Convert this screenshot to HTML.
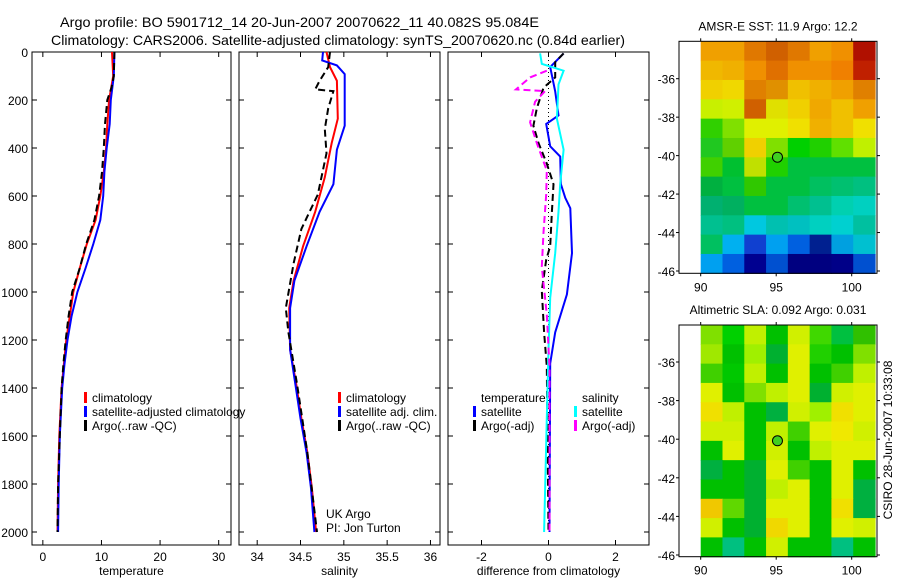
<!DOCTYPE html>
<html><head><meta charset="utf-8"><style>
html,body{margin:0;padding:0;background:#fff;}
svg{display:block;font-family:"Liberation Sans",sans-serif;}
</style></head><body>
<svg id="fig" width="900" height="580" viewBox="0 0 900 580" xmlns="http://www.w3.org/2000/svg">
<text x="60" y="27" font-size="14" textLength="479" lengthAdjust="spacingAndGlyphs">Argo profile: BO 5901712_14 20-Jun-2007 20070622_11 40.082S 95.084E</text>
<text x="51" y="45" font-size="14" textLength="574" lengthAdjust="spacingAndGlyphs">Climatology: CARS2006. Satellite-adjusted climatology: synTS_20070620.nc (0.84d earlier)</text>
<g id="plots"></g>
<text transform="translate(892,440) rotate(-90)" text-anchor="middle" font-size="12">CSIRO 28-Jun-2007 10:33:08</text>
</svg>
<script>
// ---- Profile data (depth in dbar) ----
const tDepth = [0,100,200,300,400,500,600,700,800,900,1000,1100,1200,1300,1400,1600,1800,2000];
const tClim  = [11.8,12.0,11.3,11.0,10.8,10.4,9.8,9.0,7.5,6.3,5.2,4.6,4.0,3.6,3.2,2.8,2.6,2.5];
const tSat   = [12.2,12.1,11.6,11.4,10.9,10.5,10.3,9.8,8.6,7.3,5.9,4.9,4.2,3.7,3.3,2.9,2.7,2.6];
const tArgoDepth = [0,100,150,200,300,400,500,600,700,800,900,1000,1100,1200,1300,1400,1600,1800,2000];
const tArgo  = [12.2,12.1,11.7,11.0,10.6,10.4,10.1,9.6,8.8,7.4,6.3,5.0,4.4,3.9,3.5,3.2,2.9,2.6,2.5];

const sClimDepth = [0,63,120,278,379,522,666,809,953,1067,1240,1383,1527,1670,1814,2000];
const sClim  = [34.80,34.84,34.92,34.93,34.86,34.78,34.67,34.53,34.42,34.37,34.38,34.45,34.51,34.58,34.63,34.68];
const sSatDepth = [0,35,56,92,307,407,551,666,809,953,1067,1240,1383,1527,1670,1814,2000];
const sSat   = [34.76,34.75,34.92,35.01,35.01,34.92,34.88,34.72,34.57,34.43,34.38,34.38,34.44,34.50,34.57,34.62,34.66];
const sArgoDepth = [0,63,120,156,163,235,321,422,594,737,881,1067,1168,1383,1670,2000];
const sArgo  = [34.84,34.82,34.72,34.67,34.88,34.82,34.78,34.80,34.70,34.51,34.42,34.33,34.36,34.46,34.58,34.69];

const dTSatDepth = [6,63,164,264,300,393,436,551,608,651,838,1010,1168,1297,2000];
const dTSat  = [0.45,0.05,0.2,0.3,-0.07,0.05,0.35,0.37,0.5,0.65,0.7,0.55,0.2,0.05,0.03];
const dTArgoDepth = [6,42,106,149,235,307,379,465,551,666,809,866,995,1168,1311,2000];
const dTArgo = [0.45,0.2,0.2,-0.15,-0.35,-0.45,-0.3,-0.05,0.15,0.1,0.05,-0.07,-0.2,-0.13,-0.05,0.0];
const dSSatDepth = [6,49,78,135,278,407,551,666,838,1024,1240,1527,2000];
const dSSat  = [-0.25,-0.2,0.45,0.3,0.25,0.45,0.35,0.3,0.2,0.05,0.0,-0.05,-0.13];
const dSArgoDepth = [78,106,156,163,207,293,379,494,594,752,895,1094,1311,2000];
const dSArgo = [-0.05,-0.55,-0.97,-0.1,-0.4,-0.55,-0.35,-0.05,-0.07,-0.15,-0.2,-0.05,0.03,0.03];

const depthTicks = [0,200,400,600,800,1000,1200,1400,1600,1800,2000];
const tTicks = [0,10,20,30];
const sTicks = [34,34.5,35,35.5,36];
const sTickLabels = ["34","34.5","35","35.5","36"];
const dTicks = [-2,0,2];

// ---- Map data (8 cols x 12 rows, lat -34..-46) ----
const sstColors = [
["#f0a000","#f0a000","#e07800","#d06000","#e07800","#f0a000","#f09000","#b01000"],
["#f0b800","#f0b000","#f09000","#e07000","#f09000","#f09000","#f08000","#c02000"],
["#f0d000","#f0d800","#e08000","#e09000","#f0c000","#f0b000","#f0a000","#e08000"],
["#c8f000","#d0f000","#d06000","#e0e000","#f0d000","#f0a800","#f0c000","#f0a000"],
["#30d000","#80e000","#e0f000","#e0f000","#f0e000","#f0b000","#f0c000","#f0e000"],
["#20c820","#60d000","#f0d000","#80e000","#00d000","#20d000","#60e000","#c0f000"],
["#40d000","#00c030","#c0e000","#20d000","#00c040","#00c040","#00c040","#00c040"],
["#00b040","#00c040","#30c800","#00c040","#00c040","#00c060","#00c070","#00c080"],
["#00b070","#00b060","#00c040","#00c040","#00c070","#00c090","#00d0b0","#00d0c0"],
["#00c090","#00c080","#00c8e0","#00c0b0","#00c0c0","#00d0c0","#00d0d0","#00c0a0"],
["#00c060","#00b0f0","#1040d0","#00a0f0","#0060e0","#002090","#00a0e0","#00c0d0"],
["#00a0f0","#0060e0","#000090","#0050d0","#000080","#000080","#000088","#0050d0"]];
const slaColors = [
["#80e000","#00d000","#c0f000","#00c000","#d0f000","#40d800","#00c040","#30c000"],
["#a0e800","#00c000","#a0f000","#00b030","#e0f000","#20d000","#00c000","#80e000"],
["#40d000","#00c800","#c0f000","#00c000","#e0f000","#00c000","#40d000","#c0f000"],
["#e0f000","#00c000","#80e000","#c0f000","#e0f000","#00b030","#d0f000","#e0f000"],
["#f0e000","#c0f000","#00c000","#00b040","#d0f000","#a0f000","#f0e000","#e0f000"],
["#d0f000","#d0f000","#00c000","#c0f000","#40d000","#e0f000","#f0e800","#d0f000"],
["#00c000","#e0f000","#00c000","#d0f000","#00c000","#c0f000","#e0f000","#e0f000"],
["#00b040","#00c000","#00b030","#e0f000","#40d000","#00c000","#e0f000","#00c000"],
["#00c000","#00c000","#00b030","#c0f000","#e0f000","#00c000","#e0f000","#00b040"],
["#f0c800","#60d800","#00b030","#e0f000","#e0f000","#00c000","#f0e000","#00b040"],
["#d0f000","#00c000","#00b030","#f0d800","#e0f000","#00c000","#e0f000","#d0f000"],
["#00c000","#00c080","#00c000","#d0f000","#00c000","#00c000","#00c080","#00c000"]];
const lonTicks = [90,95,100];
const latTicks = [-36,-38,-40,-42,-44,-46];
const floatLon = 95.084, floatLat = -40.082;

const NS = "http://www.w3.org/2000/svg";
const root = document.getElementById('plots');
function mk(tag, attrs, parent){
  const e = document.createElementNS(NS, tag);
  for (const k in attrs) e.setAttribute(k, attrs[k]);
  (parent||root).appendChild(e);
  return e;
}
const Y0 = 52, Y2000 = 532, PB = 545;
const yD = d => Y0 + d*(Y2000-Y0)/2000;

function panel(name, L, R, xmin, xmax, ticks, labels, xlabel, leftLabels){
  const xs = v => L + (v-xmin)*(R-L)/(xmax-xmin);
  const g = mk('g', {});
  
  
  const box = mk('rect', {x:L, y:Y0, width:R-L, height:PB-Y0, fill:'none', stroke:'#000', 'stroke-width':1}, g);
  
  
  ticks.forEach((t,i)=>{
    const x = xs(t);
    mk('line',{x1:x,y1:PB,x2:x,y2:PB-5,stroke:'#000'},g);
    mk('line',{x1:x,y1:Y0,x2:x,y2:Y0+5,stroke:'#000'},g);
    const tx = mk('text',{x:x,y:PB+16,'text-anchor':'middle','font-size':12},g);
    tx.textContent = labels[i];
    
    
  });
  depthTicks.forEach(d=>{
    const y = yD(d);
    mk('line',{x1:L,y1:y,x2:L+5,y2:y,stroke:'#000'},g);
    mk('line',{x1:R,y1:y,x2:R-5,y2:y,stroke:'#000'},g);
    if (leftLabels){
      const tx = mk('text',{x:L-4,y:y+5,'text-anchor':'end','font-size':12},g);
      tx.textContent = d;
      
      
    }
  });
  const xl = mk('text',{x:(L+R)/2,y:PB+30,'text-anchor':'middle','font-size':12},g);
  xl.textContent = xlabel;
  
  
  return {g, xs};
}
function series(p, name, depths, vals, color, dashed, width){
  const pts = vals.map((v,i)=> p.xs(v).toFixed(1)+','+yD(depths[i]).toFixed(1)).join(' ');
  const l = mk('polyline',{points:pts,fill:'none',stroke:color,'stroke-width':width||2,'stroke-dasharray':dashed?'7,4':'none'},p.g);
  
  
}
function legend(p, name, x, items, header){
  const y0 = 402;
  let row = 0;
  if (header){
    const h = mk('text',{x:x+8,y:y0,'font-size':12},p.g);
    h.textContent = header;
    
    
    row = 1;
  }
  items.forEach(([c,label])=>{
    const y = y0 + row*14;
    mk('rect',{x:x,y:y-10,width:3,height:11,fill:c},p.g);
    const t = mk('text',{x:x+8,y:y,'font-size':12},p.g);
    t.textContent = label;
    
    
    row++;
  });
}

const p1 = panel('temperature-panel', 32, 231, -1.85, 32.1, tTicks, tTicks.map(String), 'temperature', true);
series(p1,'temp-climatology-line',tDepth,tClim,'#ff0000',false);
series(p1,'temp-satellite-line',tDepth,tSat,'#0000ff',false);
series(p1,'temp-argo-line',tArgoDepth,tArgo,'#000000',true);
legend(p1,'temp-legend',84,[['#ff0000','climatology'],['#0000ff','satellite-adjusted climatology'],['#000','Argo(..raw -QC)']]);

const p2 = panel('salinity-panel', 239, 440, 33.79, 36.11, sTicks, sTickLabels, 'salinity', false);
series(p2,'sal-climatology-line',sClimDepth,sClim,'#ff0000',false);
series(p2,'sal-satellite-line',sSatDepth,sSat,'#0000ff',false);
series(p2,'sal-argo-line',sArgoDepth,sArgo,'#000000',true);
legend(p2,'sal-legend',338,[['#ff0000','climatology'],['#0000ff','satellite adj. clim.'],['#000','Argo(..raw -QC)']]);
const uk = mk('text',{x:326,y:518,'font-size':12},p2.g); uk.textContent='UK Argo';


const pi = mk('text',{x:326,y:532,'font-size':12},p2.g); pi.textContent='PI: Jon Turton';



const p3 = panel('difference-panel', 448, 649, -3, 3, dTicks, dTicks.map(String), 'difference from climatology', false);
const zl = mk('line',{x1:p3.xs(0),y1:Y0,x2:p3.xs(0),y2:Y2000,stroke:'#000','stroke-dasharray':'1,3'},p3.g);


series(p3,'dtemp-satellite-line',dTSatDepth,dTSat,'#0000ff',false);
series(p3,'dtemp-argo-line',dTArgoDepth,dTArgo,'#000000',true);
series(p3,'dsal-satellite-line',dSSatDepth,dSSat,'#00ffff',false);
series(p3,'dsal-argo-line',dSArgoDepth,dSArgo,'#ff00ff',true);
legend(p3,'diff-temp-legend',473,[['#0000ff','satellite'],['#000','Argo(-adj)']],'temperature');
legend(p3,'diff-sal-legend',574,[['#00ffff','satellite'],['#ff00ff','Argo(-adj)']],'salinity');

function map(name, top, bottom, lat36y, lat46y, colors, title){
  const L = 679, R = 877;
  const lonx = v => 700.7 + (v-90)*(851.7-700.7)/10;
  const laty = v => lat36y + (-36 - v)*(lat46y-lat36y)/10;
  const g = mk('g',{});
  
  
  const rows = colors.length, cols = colors[0].length;
  const x0 = lonx(90), x1 = 875, yTop = top, yBot = bottom;
  const cw = (x1-x0)/cols, rh = (yBot-yTop)/rows;
  colors.forEach((row,r)=>row.forEach((c,k)=>{
    const cell = mk('rect',{x:(x0+k*cw).toFixed(2),y:(yTop+r*rh).toFixed(2),width:(cw+0.6).toFixed(2),height:(rh+0.6).toFixed(2),fill:c},g);
    
    
  }));
  mk('rect',{x:L,y:top,width:R-L,height:bottom-top,fill:'none',stroke:'#000'},g);
  lonTicks.forEach(v=>{
    const x = lonx(v);
    mk('line',{x1:x,y1:top-3,x2:x,y2:top,stroke:'#000'},g);
    mk('line',{x1:x,y1:bottom,x2:x,y2:bottom+3,stroke:'#000'},g);
    const t = mk('text',{x:x,y:bottom+18,'text-anchor':'middle','font-size':12},g);
    t.textContent = v;
    
    
  });
  latTicks.forEach(v=>{
    const y = laty(v);
    mk('line',{x1:L-3,y1:y,x2:L,y2:y,stroke:'#000'},g);
    mk('line',{x1:R,y1:y,x2:R+3,y2:y,stroke:'#000'},g);
    const t = mk('text',{x:L-4,y:y+5,'text-anchor':'end','font-size':12},g);
    t.textContent = v;
    
    
  });
  const c = mk('circle',{cx:lonx(floatLon),cy:laty(floatLat),r:5,fill:'#40d020',stroke:'#000','stroke-width':1},g);
  
  
  const tt = mk('text',{x:(L+R)/2,y:top-11,'text-anchor':'middle','font-size':12},g);
  tt.textContent = title;
  
  
}
map('sst-map', 41.3, 273.3, 78.7, 271, sstColors, 'AMSR-E SST: 11.9 Argo: 12.2');
map('sla-map', 325, 556.7, 362, 555, slaColors, 'Altimetric SLA: 0.092 Argo: 0.031');
</script>
</body></html>
